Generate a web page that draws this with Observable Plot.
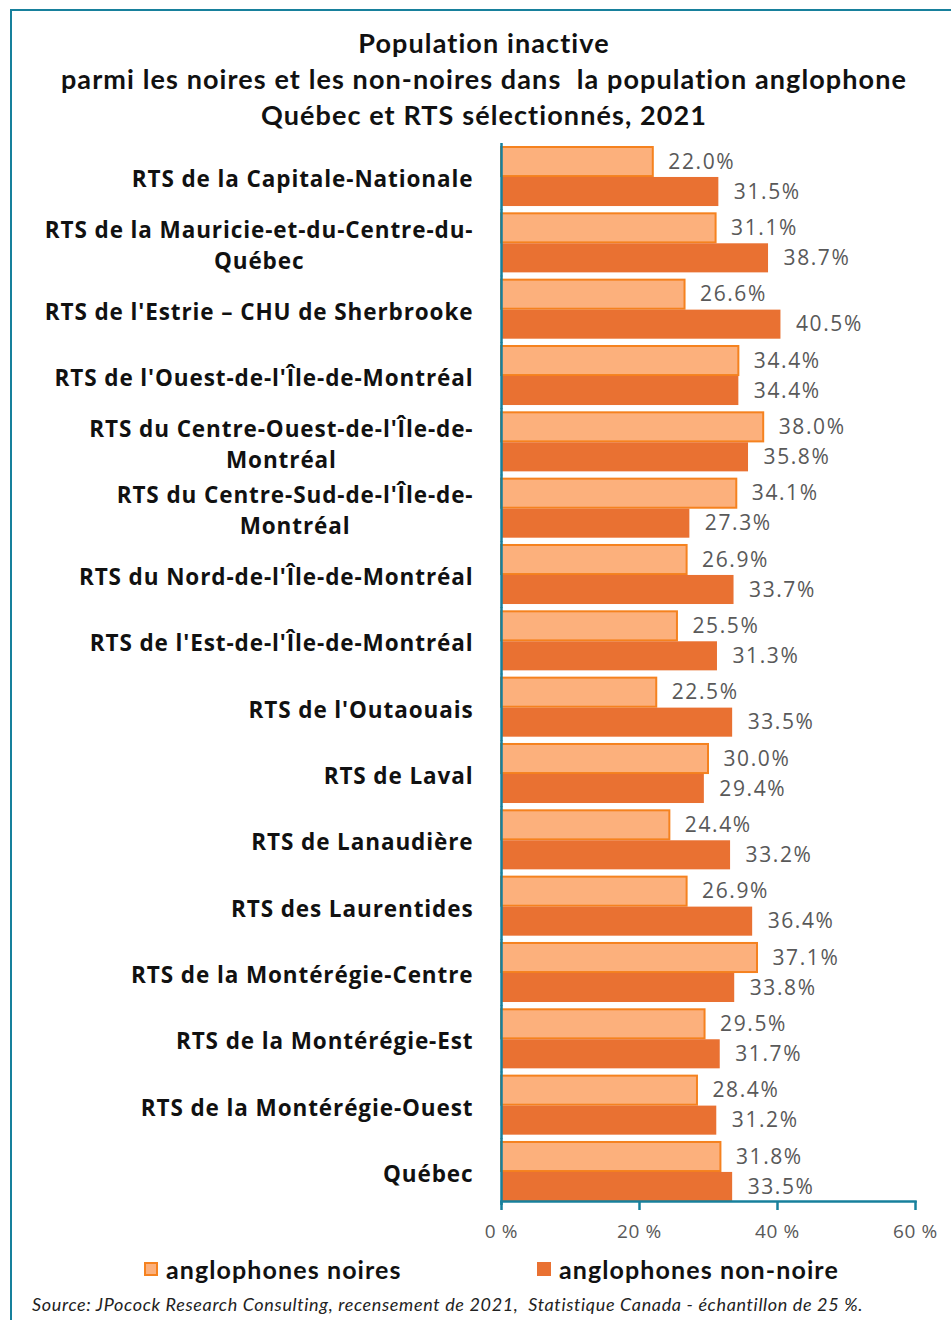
<!DOCTYPE html>
<html>
<head>
<meta charset="utf-8">
<script src="https://cdn.jsdelivr.net/npm/d3@7"></script>
<script src="https://cdn.jsdelivr.net/npm/@observablehq/plot@0.6"></script>
<style>
  html, body { margin: 0; padding: 0; background: #fff; }
  #page { position: relative; width: 951px; height: 1320px; overflow: hidden; background: #fff; }
  #frame { position: absolute; left: 10px; top: 9px; width: 960px; height: 1330px;
           border-top: 2.5px solid #17809c; border-left: 2.5px solid #17809c; }
  #title { position: absolute; left: 0; top: 25px; width: 968px; text-align: center;
           font-family: Lato, sans-serif; font-weight: 700; font-size: 27px; letter-spacing: 1.1px;
           line-height: 36px; color: #111; }
  #chart { position: absolute; left: 0; top: 120px; }
  .legend { position: absolute; top: 1255px; font-family: Lato, sans-serif; font-weight: 700;
            font-size: 25px; letter-spacing: 1.1px; line-height: 28px; color: #111; display: flex; align-items: center; }
  .sw { display: inline-block; width: 14px; height: 14px; margin-right: 8px; box-sizing: border-box; }
  #source { position: absolute; left: 32px; top: 1293px; font-family: Lato, sans-serif; font-style: italic;
            font-size: 18px; letter-spacing: 0.65px; color: #222; white-space: nowrap; }
  #chart g[aria-label="fy-axis tick label"] { letter-spacing: 0.9px; }
  #chart g[aria-label="text"] { letter-spacing: 1.6px; }
  #chart g[aria-label="x-axis tick label"] { letter-spacing: 0.6px; }
</style>
</head>
<body>
<div id="page">
  <div id="frame"></div>
  <div id="title">Population inactive<br>parmi les noires et les non-noires dans&nbsp; la population anglophone<br>Québec et RTS sélectionnés, 2021</div>
  <div id="chart"></div>
  <div class="legend" style="left:144px"><span class="sw" style="background:#fcb07c;border:2px solid #f5821f"></span>anglophones noires</div>
  <div class="legend" style="left:537px"><span class="sw" style="background:#e97132"></span>anglophones non-noire</div>
  <div id="source">Source: JPocock Research Consulting, recensement de 2021,&nbsp; Statistique Canada - échantillon de 25 %.</div>
</div>
<script>
const categories = [
  "RTS de la Capitale-Nationale",
  "RTS de la Mauricie-et-du-Centre-du-Québec",
  "RTS de l'Estrie – CHU de Sherbrooke",
  "RTS de l'Ouest-de-l'Île-de-Montréal",
  "RTS du Centre-Ouest-de-l'Île-de-Montréal",
  "RTS du Centre-Sud-de-l'Île-de-Montréal",
  "RTS du Nord-de-l'Île-de-Montréal",
  "RTS de l'Est-de-l'Île-de-Montréal",
  "RTS de l'Outaouais",
  "RTS de Laval",
  "RTS de Lanaudière",
  "RTS des Laurentides",
  "RTS de la Montérégie-Centre",
  "RTS de la Montérégie-Est",
  "RTS de la Montérégie-Ouest",
  "Québec"
];
const categoryLabels = [
  "RTS de la Capitale-Nationale",
  "RTS de la Mauricie-et-du-Centre-du-\nQuébec",
  "RTS de l'Estrie – CHU de Sherbrooke",
  "RTS de l'Ouest-de-l'Île-de-Montréal",
  "RTS du Centre-Ouest-de-l'Île-de-\nMontréal",
  "RTS du Centre-Sud-de-l'Île-de-\nMontréal",
  "RTS du Nord-de-l'Île-de-Montréal",
  "RTS de l'Est-de-l'Île-de-Montréal",
  "RTS de l'Outaouais",
  "RTS de Laval",
  "RTS de Lanaudière",
  "RTS des Laurentides",
  "RTS de la Montérégie-Centre",
  "RTS de la Montérégie-Est",
  "RTS de la Montérégie-Ouest",
  "Québec"
];
const seriesNames = ["anglophones noires", "anglophones non-noire"];
const noires    = [22.0, 31.1, 26.6, 34.4, 38.0, 34.1, 26.9, 25.5, 22.5, 30.0, 24.4, 26.9, 37.1, 29.5, 28.4, 31.8];
const nonNoires = [31.5, 38.7, 40.5, 34.4, 35.8, 27.3, 33.7, 31.3, 33.5, 29.4, 33.2, 36.4, 33.8, 31.7, 31.2, 33.5];
const xTicks = [0, 20, 40, 60];

const rows = categories.flatMap((c, i) => [
  {category: c, series: seriesNames[0], value: noires[i]},
  {category: c, series: seriesNames[1], value: nonNoires[i]}
]);
const labelOf = new Map(categories.map((c, i) => [c, categoryLabels[i]]));
const teal = "#17809c";

const chart = Plot.plot({
  width: 951,
  height: 1130,
  marginLeft: 501,
  marginRight: 36,
  marginTop: 27,
  marginBottom: 49,
  style: {fontFamily: "'Open Sans', sans-serif", background: "transparent"},
  x: {domain: [0, 60], ticks: xTicks, tickFormat: d => d + " %"},
  y: {domain: seriesNames, paddingInner: 0.03, paddingOuter: 0, round: false, axis: null},
  fy: {domain: categories, paddingInner: 0.11, paddingOuter: 0, round: false},
  marks: [
    Plot.barX(rows, {
      x: "value", y: "series", fy: "category",
      fill: d => d.series === seriesNames[0] ? "#fcb07c" : "#e97132",
      stroke: d => d.series === seriesNames[0] ? "#f5821f" : "none",
      strokeWidth: 2
    }),
    Plot.text(rows, {
      x: "value", y: "series", fy: "category",
      text: d => d.value.toFixed(1) + "%",
      textAnchor: "start", dx: 15, fill: "#595959", fontSize: 21
    }),
    Plot.ruleX([0], {stroke: teal, strokeWidth: 2.5, insetTop: -4, insetBottom: -4}),
    Plot.frame({anchor: "bottom", facetAnchor: "bottom", stroke: teal, strokeWidth: 2.5}),
    Plot.axisX({anchor: "bottom", ticks: xTicks, tickFormat: d => d + " %", tickSize: 9, tickPadding: 14,
                stroke: teal, strokeWidth: 2.5, color: "#595959", fontSize: 19, label: null}),
    Plot.axisFy({anchor: "left", tickSize: 0, tickPadding: 28, tickFormat: d => labelOf.get(d),
                 fontSize: 22.5, fontWeight: 700, fill: "#111", lineHeight: 1.38, label: null})
  ]
});
document.getElementById("chart").appendChild(chart);

// Excel centres wrapped category labels on their first line
chart.querySelectorAll("g[aria-label='fy-axis tick label'] text").forEach(t => {
  const spans = t.querySelectorAll("tspan");
  if (spans.length > 1) {
    const w = spans[0].getComputedTextLength();
    t.setAttribute("text-anchor", "middle");
    spans.forEach(s => s.setAttribute("x", -w / 2));
  }
});
</script>
</body>
</html>
